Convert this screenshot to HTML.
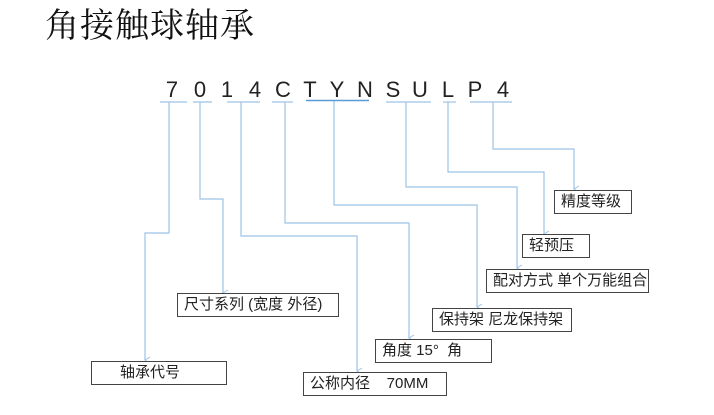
<!DOCTYPE html>
<html><head><meta charset="utf-8"><style>
html,body{margin:0;padding:0;background:#fff;width:714px;height:415px;overflow:hidden}
body{position:relative;font-family:"Liberation Sans","Noto Sans CJK SC",sans-serif}
.t{position:absolute;left:45px;top:5px;font-size:34px;line-height:44px;font-family:"Liberation Serif","Noto Serif CJK SC",serif;color:#111;letter-spacing:1px}
.c{position:absolute;top:78px;font-size:22px;line-height:24px;color:#222;width:24px;text-align:center}
.b{position:absolute;border:1.3px solid #444;box-sizing:border-box;font-size:15px;line-height:22px;color:#222;padding-left:6px;white-space:nowrap;background:#fff}
svg{position:absolute;left:0;top:0}
</style></head><body>
<div class="t">角接触球轴承</div>
<div class="c" style="left:160px">7</div>
<div class="c" style="left:188px">0</div>
<div class="c" style="left:215px">1</div>
<div class="c" style="left:243px">4</div>
<div class="c" style="left:271px">C</div>
<div class="c" style="left:298px">T</div>
<div class="c" style="left:325px">Y</div>
<div class="c" style="left:353px">N</div>
<div class="c" style="left:381px">S</div>
<div class="c" style="left:408px">U</div>
<div class="c" style="left:436px">L</div>
<div class="c" style="left:463px">P</div>
<div class="c" style="left:491px">4</div>
<svg width="714" height="415">
<defs><marker id="a" markerWidth="8" markerHeight="8" refX="4" refY="7" orient="auto-start-reverse" markerUnits="userSpaceOnUse"><path d="M1,2 L4,7 L7,2" fill="none" stroke="#9dc3e6" stroke-width="1"/></marker></defs>
<g stroke="#9dc3e6" stroke-width="1.2" fill="none">
<line x1="160" y1="102" x2="187" y2="102"/>
<line x1="193" y1="102" x2="212" y2="102"/>
<line x1="227" y1="102" x2="260" y2="102"/>
<line x1="272" y1="102" x2="293" y2="102"/>
<line x1="386" y1="102" x2="431" y2="102"/>
<line x1="443" y1="102" x2="456" y2="102"/>
<line x1="470" y1="102" x2="512" y2="102"/>
<polyline points="169,102 169,233 145,233 145,360" marker-end="url(#a)"/>
<polyline points="200,102 200,199 223,199 223,293" marker-end="url(#a)"/>
<polyline points="241,102 241,236 357,236 357,371" marker-end="url(#a)"/>
<polyline points="285,102 285,223 409,223 409,338" marker-end="url(#a)"/>
<polyline points="334,101 334,205 477,205 477,307" marker-end="url(#a)"/>
<polyline points="406,102 406,187 517,187 517,268" marker-end="url(#a)"/>
<polyline points="448,102 448,172 544,172 544,234" marker-end="url(#a)"/>
<polyline points="493,102 493,149 574,149 574,189" marker-end="url(#a)"/>
</g>
<line x1="306" y1="100.5" x2="369" y2="100.5" stroke="#5b9bd5" stroke-width="1.5"/>
</svg>
<div class="b" style="left:91px;top:361px;width:136px;height:24px;padding-left:28px">轴承代号</div>
<div class="b" style="left:177px;top:293px;width:162px;height:24px">尺寸系列 (宽度 外径)</div>
<div class="b" style="left:303px;top:372px;width:144px;height:24px">公称内径&nbsp;&nbsp;&nbsp;&nbsp;70MM</div>
<div class="b" style="left:375px;top:339px;width:117px;height:24px">角度 15°&nbsp;&nbsp;角</div>
<div class="b" style="left:432px;top:308px;width:140px;height:24px">保持架 尼龙保持架</div>
<div class="b" style="left:486px;top:269px;width:163px;height:24px">配对方式 单个万能组合</div>
<div class="b" style="left:522px;top:234px;width:68px;height:24px">轻预压</div>
<div class="b" style="left:554px;top:190px;width:78px;height:24px">精度等级</div>
</body></html>
